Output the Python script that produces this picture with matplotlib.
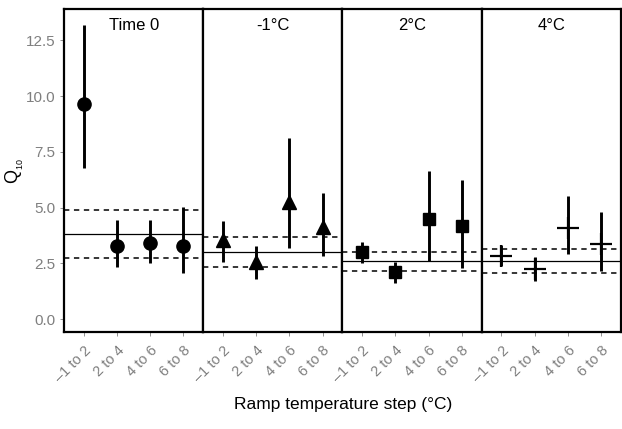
import matplotlib
matplotlib.use("Agg")
import matplotlib.pyplot as plt
import numpy as np

plt.rcParams["font.family"] = ["Liberation Sans", "DejaVu Sans"]

steps = ["\u20131 to 2", "2 to 4", "4 to 6", "6 to 8"]
panels = ["Time 0", "-1°C", "2°C", "4°C"]
markers = ["o", "^", "s", "+"]

# Q10 estimates with interval ends, one list per panel
q10 = [[9.62, 3.27, 3.42, 3.27],
       [3.54, 2.54, 5.26, 4.14],
       [2.99, 2.09, 4.48, 4.17],
       [2.84, 2.26, 4.09, 3.35]]
q10_lo = [[6.78, 2.35, 2.50, 2.05],
          [2.54, 1.78, 3.17, 2.84],
          [2.50, 1.63, 2.60, 2.30],
          [2.39, 1.72, 2.91, 2.17]]
q10_hi = [[13.2, 4.44, 4.44, 5.04],
          [4.39, 3.29, 8.10, 5.64],
          [3.44, 2.57, 6.65, 6.23],
          [3.32, 2.77, 5.52, 4.81]]

# overall Q10 per panel (solid) and its interval (dashed)
overall = [3.80, 3.00, 2.60, 2.60]
overall_lo = [2.75, 2.32, 2.17, 2.08]
overall_hi = [4.89, 3.69, 3.02, 3.15]

grey = "#7f7f7f"

fig, axes = plt.subplots(1, 4, figsize=(6.22, 4.29), dpi=100, sharey=True)
fig.subplots_adjust(left=0.103, right=0.998, top=0.978, bottom=0.226, wspace=0)

x = np.arange(1, 5)
for i, ax in enumerate(axes):
    ax.axhline(overall[i], color="black", lw=0.9, zorder=1)
    ax.axhline(overall_lo[i], color="black", lw=1.1, ls=(0, (3.5, 3)), zorder=1)
    ax.axhline(overall_hi[i], color="black", lw=1.1, ls=(0, (3.5, 3)), zorder=1)
    ax.vlines(x, q10_lo[i], q10_hi[i], color="black", lw=2.1, zorder=2)
    m = markers[i]
    if m == "+":
        ax.plot(x, q10[i], ls="none", marker="+", ms=16, mew=1.6, color="black", zorder=3)
    else:
        ms = {"o": 9.5, "^": 10.5, "s": 9}[m]
        ax.plot(x, q10[i], ls="none", marker=m, ms=ms, color="black", zorder=3)

    ax.set_xlim(0.4, 4.6)
    ax.set_ylim(-0.58, 13.88)
    ax.set_xticks(x)
    ax.set_xticklabels(steps, rotation=45, ha="right", rotation_mode="anchor", color=grey, fontsize=10.5)
    ax.tick_params(axis="both", length=3, width=0.6, color=grey)
    ax.tick_params(axis="x", pad=5)
    for s in ax.spines.values():
        s.set_linewidth(1.6)
        s.set_color("black")
    ax.text(0.5, 0.975, panels[i], transform=ax.transAxes, ha="center", va="top", fontsize=12)

axes[0].set_yticks([0, 2.5, 5, 7.5, 10, 12.5])
axes[0].set_yticklabels(["0.0", "2.5", "5.0", "7.5", "10.0", "12.5"], color=grey, fontsize=11)
for ax in axes[1:]:
    ax.tick_params(axis="y", left=False)
axes[0].set_ylabel(r"$\mathregular{Q_{_{10}}}$", fontsize=13)
axes[0].yaxis.set_label_coords(-0.27, 0.5)

fig.text(0.551, 0.058, "Ramp temperature step (°C)", ha="center", va="center", fontsize=12.5)

fig.savefig("out.png", dpi=100)
